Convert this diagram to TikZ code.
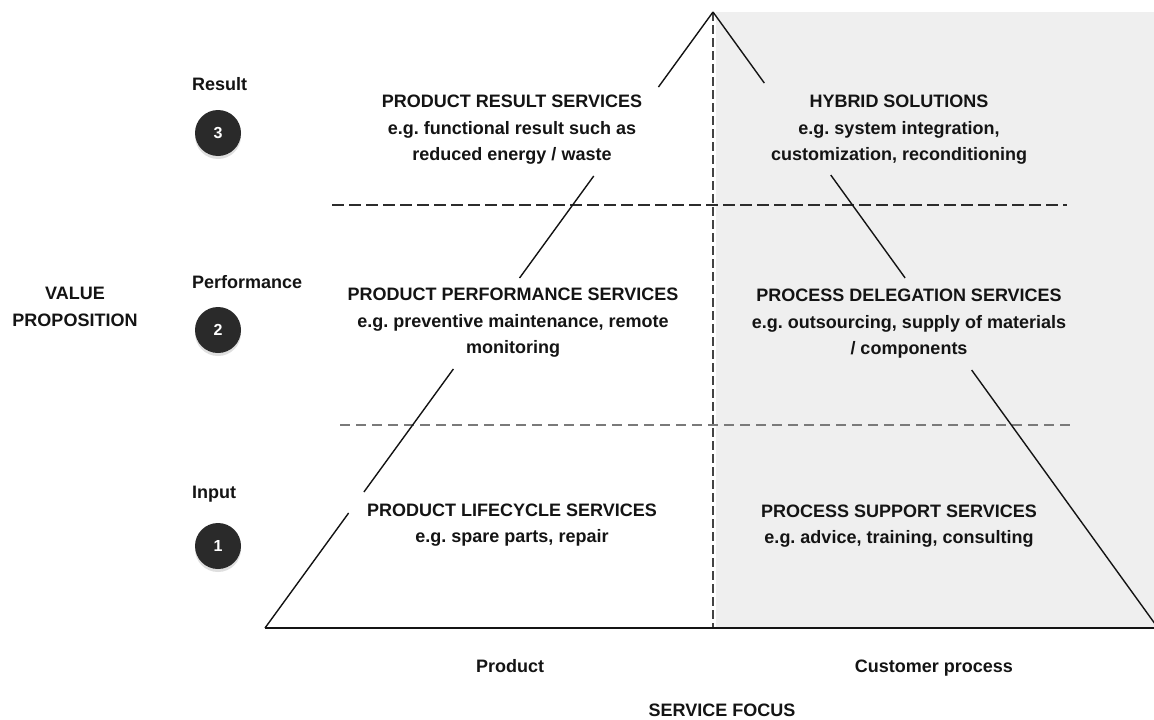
\documentclass[tikz,border=0pt]{standalone}
\usepackage{fontspec}
\setmainfont{Liberation Sans}
\usetikzlibrary{calc,shadows}
\definecolor{regiongray}{HTML}{EFEFEF}
\definecolor{inkblack}{HTML}{141414}
\definecolor{circlefill}{HTML}{2A2A2A}
\definecolor{lightdash}{HTML}{7A7A7A}
\frenchspacing
\begin{document}
\begin{tikzpicture}[x=1pt,y=-1pt,
  txt/.style={font=\bfseries\fontsize{18}{26.5}\selectfont, text=inkblack, align=center, inner sep=0pt},
  lvl/.style={font=\bfseries\fontsize{18}{20}\selectfont, text=inkblack, anchor=west, inner sep=0pt},
  badge/.style={circle, fill=circlefill, minimum size=46pt, inner sep=0pt, text=white,
    font=\bfseries\fontsize{16}{18}\selectfont,
    drop shadow={shadow xshift=0pt, shadow yshift=-3pt, opacity=0.25}},
  sideline/.style={line width=1.4pt, draw=inkblack},
  baseline/.style={line width=2.4pt, draw=inkblack},
  topdash/.style={line width=1.9pt, draw=inkblack!90, dash pattern=on 12pt off 5pt},
  lowdash/.style={line width=1.2pt, draw=lightdash, dash pattern=on 10pt off 6pt},
  middash/.style={line width=1.4pt, draw=inkblack!80, dash pattern=on 9pt off 4pt}
]
\useasboundingbox (0,0) rectangle (1154,720);
\fill[white] (0,0) rectangle (1154,720);
% grey customer-process half
\fill[regiongray] (716,12) rectangle (1154,628);

% key points of the pyramid
\coordinate (apex) at (713,12);
\coordinate (bl) at (265,628);
\coordinate (br) at (1158,628);

% horizontal level separators
\coordinate (d1a) at (332,205);
\coordinate (d1b) at (1067,205);
\coordinate (d2a) at (340,425);
\coordinate (d2b) at (1075,425);
\draw[topdash] (d1a) -- (d1b);
\draw[lowdash] (d2a) -- (d2b);

% vertical separator
\coordinate (vbot) at (713,628);
\draw[middash] (apex) -- (vbot);

% left side of the pyramid (interrupted around the texts)
\draw[sideline] (apex) -- ($(apex)!0.1218!(bl)$);
\draw[sideline] ($(apex)!0.2662!(bl)$) -- ($(apex)!0.4318!(bl)$);
\draw[sideline] ($(apex)!0.5795!(bl)$) -- ($(apex)!0.7792!(bl)$);
\draw[sideline] ($(apex)!0.8133!(bl)$) -- (bl);

% right side of the pyramid
\draw[sideline] (apex) -- ($(apex)!0.1153!(br)$);
\draw[sideline] ($(apex)!0.2646!(br)$) -- ($(apex)!0.4318!(br)$);
\draw[sideline] ($(apex)!0.5812!(br)$) -- (br);

% base line
\draw[baseline] (bl) -- (1154,628);

% cell texts
\node[txt] (prs) at (512,130) {PRODUCT RESULT SERVICES\\e.g. functional result such as\\reduced energy / waste};
\node[txt] (hyb) at (899,130) {HYBRID SOLUTIONS\\e.g. system integration,\\customization, reconditioning};
\node[txt] (pps) at (513,323) {PRODUCT PERFORMANCE SERVICES\\e.g. preventive maintenance, remote\\monitoring};
\node[txt] (pds) at (909,324) {PROCESS DELEGATION SERVICES\\e.g. outsourcing, supply of materials\\/ components};
\node[txt] (pls) at (512,525) {PRODUCT LIFECYCLE SERVICES\\e.g. spare parts, repair};
\node[txt] (pss) at (899,526) {PROCESS SUPPORT SERVICES\\e.g. advice, training, consulting};

% level labels and badges
\node[lvl] (lres) at (192,84) {Result};
\node[badge] (b3) at (218,133) {3};
\node[lvl] (lperf) at (192,282) {Performance};
\node[badge] (b2) at (218,330) {2};
\node[lvl] (linp) at (192,494) {Input};
\node[badge] (b1) at (218,546) {1};

% axis labels
\node[txt] (vp) at (75,307) {VALUE\\PROPOSITION};
\node[txt] (prod) at (510,666) {Product};
\node[txt] (cust) at (934,668) {Customer process};
\node[txt] (sf) at (722,710) {SERVICE FOCUS};
\end{tikzpicture}
\end{document}
